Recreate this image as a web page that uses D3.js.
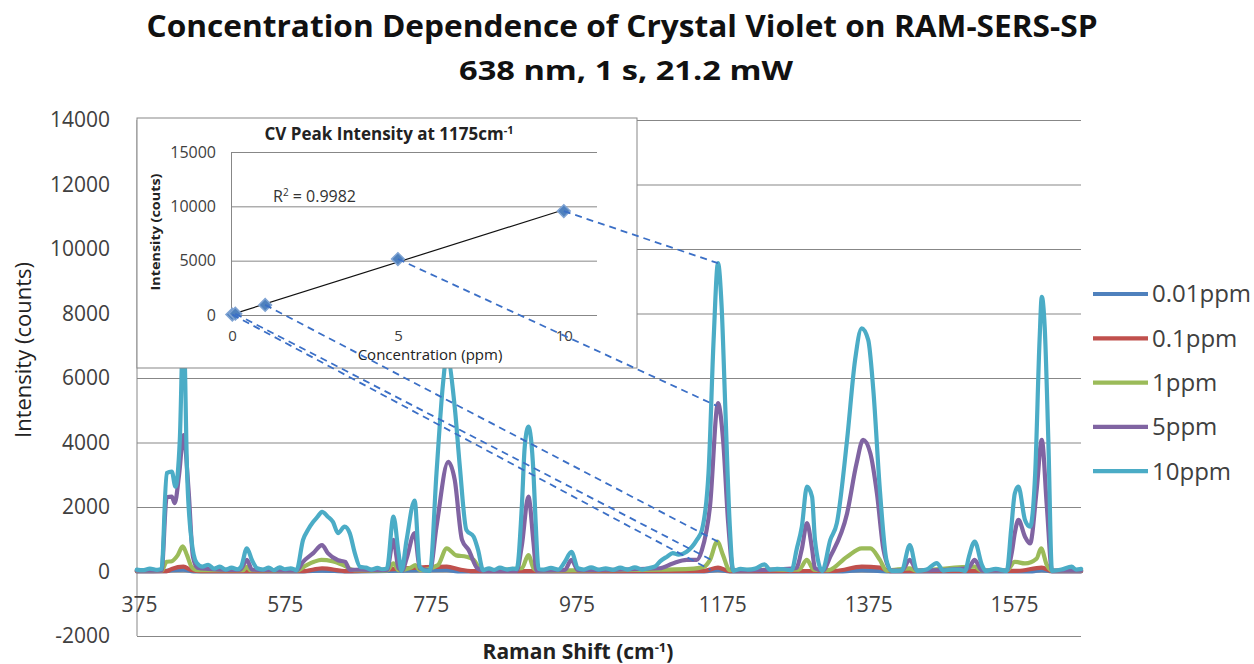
<!DOCTYPE html>
<html>
<head>
<meta charset="utf-8">
<script src="https://cdn.jsdelivr.net/npm/d3@7"></script>
<style>
  body { margin: 0; background: #fff; }
  svg { font-family: "Open Sans", sans-serif; }
</style>
</head>
<body>
<svg id="chart" width="1254" height="664"></svg>
<script>
// --- data ---
var seriesNames = ["0.01ppm", "0.1ppm", "1ppm", "5ppm", "10ppm"];
var seriesColors = ["#4F81BD", "#C0504D", "#9BBB59", "#8064A2", "#4BACC6"];
var shiftTicks = [375, 575, 775, 975, 1175, 1375, 1575];
var intensityTicks = [-2000, 0, 2000, 4000, 6000, 8000, 10000, 12000, 14000];

// [raman shift, intensity]
var ppm001 = [[372,0],[410,10],[420,40],[436,60],[450,5],[600,5],[626,30],[660,5],[797,50],[812,5],[1150,5],[1169,50],[1185,5],[1340,5],[1366,40],[1400,5],[1600,5],[1613,40],[1627,5],[1667,5]];
var ppm01 = [[372,10],[413,10],[420,80],[436,150],[447,40],[460,10],[600,10],[626,100],[660,10],[797,150],[815,60],[830,10],[1150,20],[1169,120],[1185,10],[1330,20],[1366,150],[1391,120],[1405,10],[1580,20],[1613,120],[1627,10],[1667,10]];
var ppm1 = [[372,20],[406,20],[413,300],[420,320],[428,500],[435,780],[441,500],[447,150],[455,40],[518,40],[523,150],[528,40],[591,30],[605,200],[615,300],[625,360],[640,320],[655,200],[670,40],[715,30],[724,250],[731,40],[748,120],[754,200],[760,40],[785,200],[797,720],[810,500],[824,460],[834,360],[845,40],[900,100],[909,510],[916,100],[922,30],[1100,60],[1130,80],[1150,150],[1158,360],[1168,930],[1176,500],[1185,40],[1280,60],[1291,360],[1300,60],[1320,40],[1346,460],[1366,720],[1378,720],[1391,360],[1400,30],[1432,100],[1440,30],[1521,150],[1530,30],[1565,30],[1576,300],[1590,250],[1606,400],[1612,720],[1620,200],[1627,30],[1667,30]];
var ppm5 = [[372,30],[406,30],[413,2300],[420,2320],[424,2120],[430,3000],[436,4230],[443,2530],[449,460],[455,120],[470,80],[500,50],[514,60],[523,360],[530,60],[560,40],[591,30],[600,300],[614,570],[626,820],[634,570],[648,350],[658,300],[664,50],[680,60],[715,40],[724,980],[731,100],[736,30],[742,400],[753,1190],[760,100],[774,30],[783,1390],[799,3400],[808,2840],[818,980],[827,670],[839,100],[847,30],[893,30],[900,800],[909,2320],[916,900],[920,30],[959,50],[968,360],[977,40],[1089,100],[1107,250],[1126,360],[1140,360],[1147,670],[1158,2010],[1169,5220],[1176,4080],[1183,1500],[1190,30],[1276,100],[1284,700],[1291,1500],[1298,700],[1302,100],[1313,30],[1323,460],[1346,1800],[1359,3350],[1368,4080],[1378,3660],[1387,2420],[1396,670],[1407,30],[1421,30],[1432,360],[1442,30],[1512,100],[1521,360],[1531,30],[1565,30],[1572,600],[1576,1190],[1581,1600],[1590,1080],[1597,870],[1606,2530],[1613,4080],[1620,2010],[1627,30],[1667,30]];
var ppm10 = [[372,60],[380,40],[390,90],[400,50],[406,80],[413,3050],[420,3100],[425,2630],[431,4080],[436,7800],[441,3050],[447,980],[454,270],[462,150],[470,210],[478,90],[486,150],[494,60],[502,120],[510,70],[515,150],[523,720],[530,350],[537,100],[545,60],[553,120],[560,40],[568,130],[575,70],[583,100],[591,40],[600,980],[607,1300],[614,1540],[620,1700],[626,1850],[634,1700],[641,1540],[648,1190],[657,1390],[664,1190],[671,570],[678,150],[686,120],[694,60],[702,110],[709,70],[715,90],[724,1700],[731,570],[735,20],[742,980],[753,2200],[760,150],[767,30],[774,20],[783,3050],[792,5840],[797,6700],[808,5100],[815,3250],[824,1290],[834,1080],[840,670],[847,40],[855,100],[862,50],[870,120],[880,60],[887,90],[893,80],[900,2010],[904,3870],[909,4490],[916,3050],[919,1500],[923,80],[930,60],[940,110],[950,60],[959,300],[968,610],[977,100],[985,60],[995,130],[1005,60],[1015,100],[1025,50],[1035,120],[1045,60],[1055,130],[1065,60],[1075,110],[1083,160],[1090,320],[1099,460],[1107,570],[1115,520],[1126,610],[1140,980],[1147,1290],[1156,3050],[1163,7180],[1169,9560],[1174,8210],[1179,5110],[1185,1500],[1190,20],[1200,80],[1210,60],[1220,90],[1233,220],[1240,60],[1250,80],[1260,70],[1270,40],[1277,700],[1284,1390],[1291,2630],[1298,2320],[1302,980],[1312,20],[1323,980],[1332,1500],[1346,4080],[1357,6560],[1366,7540],[1375,7180],[1382,5630],[1391,2530],[1400,360],[1407,20],[1421,30],[1432,820],[1442,20],[1455,60],[1469,260],[1478,30],[1490,60],[1500,60],[1508,20],[1513,450],[1521,930],[1531,200],[1536,20],[1550,80],[1565,20],[1571,1300],[1576,2420],[1581,2630],[1590,1600],[1597,1390],[1604,3050],[1610,7180],[1613,8520],[1617,7590],[1622,4080],[1627,20],[1640,60],[1654,150],[1660,60],[1667,80]];
var seriesData = [ppm001, ppm01, ppm1, ppm5, ppm10];

// inset: peak intensity at 1175 vs concentration
var concentration = [0.01, 0.1, 1, 5, 10];
var peak1175 = [40, 120, 930, 5150, 9560];
var insetXTicks = [0, 5, 10];
var insetYTicks = [0, 5000, 10000, 15000];
// where each dashed leader lands on the spectrum
var linkShift = [1159, 1165, 1169, 1167, 1169];
var linkIntensity = [50, 300, 925, 5140, 9560];

var svg = d3.select("#chart");
var grid = "#878787", ink = "#404040";
var plain = function(d) { return String(d); };  // keeps "-2000" with a hyphen

var x = d3.scaleLinear().domain([372.3, 1666.8]).range([137, 1081]);
var y = d3.scaleLinear().domain([-2000, 14000]).range([636, 120]);

// title
svg.append("text").attr("x", 622).attr("y", 37).attr("text-anchor", "middle")
  .attr("font-size", 30).attr("font-weight", "bold").attr("fill", "#111")
  .attr("textLength", 951).attr("lengthAdjust", "spacingAndGlyphs")
  .text("Concentration  Dependence of Crystal Violet on RAM-SERS-SP");
svg.append("text").attr("x", 626).attr("y", 80).attr("text-anchor", "middle")
  .attr("font-size", 26).attr("font-weight", "bold").attr("fill", "#111")
  .attr("textLength", 334).attr("lengthAdjust", "spacingAndGlyphs")
  .text("638 nm, 1 s, 21.2 mW");

// gridlines + y labels
var yAxis = svg.append("g").attr("transform", "translate(137,0)")
  .call(d3.axisLeft(y).tickValues(intensityTicks).tickSize(-944).tickPadding(27)
    .tickFormat(plain));
yAxis.select(".domain").remove();
yAxis.selectAll(".tick line").attr("stroke", grid);
yAxis.selectAll(".tick text").attr("font-size", 21).attr("fill", ink)
  .attr("font-family", "Open Sans");

// left axis line
svg.append("line").attr("x1", 137).attr("x2", 137).attr("y1", y(14000)).attr("y2", y(-2000))
  .attr("stroke", grid);

// x axis through zero
var xAxis = svg.append("g").attr("transform", "translate(0," + y(0) + ")")
  .call(d3.axisBottom(x).tickValues(shiftTicks).tickSize(0).tickFormat(plain));
xAxis.select(".domain").attr("stroke", grid);
xAxis.selectAll(".tick text").attr("y", 33).attr("dy", "0.35em")
  .attr("font-size", 21).attr("fill", ink).attr("font-family", "Open Sans");

// axis titles
svg.append("text").attr("transform", "translate(23,350) rotate(-90)")
  .attr("text-anchor", "middle").attr("dy", "0.35em")
  .attr("font-size", 22).attr("fill", "#222").text("Intensity (counts)");
var xt = svg.append("text").attr("x", 578).attr("y", 659).attr("text-anchor", "middle")
  .attr("font-size", 21).attr("font-weight", "bold").attr("fill", "#222");
xt.append("tspan").text("Raman Shift (cm");
xt.append("tspan").attr("dy", -7).attr("font-size", 13).text("-1");
xt.append("tspan").attr("dy", 7).text(")");

// spectra
var line = d3.line().x(function(d) { return x(d[0]); }).y(function(d) { return y(d[1]); })
  .curve(d3.curveMonotoneX);
svg.append("g").selectAll("path").data(seriesData).enter().append("path")
  .attr("d", line).attr("fill", "none")
  .attr("stroke", function(d, i) { return seriesColors[i]; })
  .attr("stroke-width", 4.2).attr("stroke-linejoin", "round").attr("stroke-linecap", "round");

// legend
var legend = svg.append("g").selectAll("g").data(seriesNames).enter().append("g")
  .attr("transform", function(d, i) { return "translate(1093," + (294 + i * 44.3) + ")"; });
legend.append("line").attr("x1", 0).attr("x2", 55)
  .attr("stroke", function(d, i) { return seriesColors[i]; }).attr("stroke-width", 4.2);
legend.append("text").attr("x", 59).attr("dy", "0.35em").attr("font-size", 24)
  .attr("fill", ink).text(function(d) { return d; });

// ---- inset ----
var inset = svg.append("g");
inset.append("rect").attr("x", 137).attr("y", 118).attr("width", 500).attr("height", 250)
  .attr("fill", "#fff").attr("stroke", grid);

var ix = d3.scaleLinear().domain([0, 11]).range([232, 597]);
var iy = d3.scaleLinear().domain([0, 15000]).range([315, 152]);

var iyAxis = inset.append("g").attr("transform", "translate(231,0)")
  .call(d3.axisLeft(iy).tickValues(insetYTicks).tickSize(-366).tickPadding(15)
    .tickFormat(plain));
iyAxis.select(".domain").attr("stroke", grid);
iyAxis.selectAll(".tick line").attr("stroke", grid);
iyAxis.selectAll(".tick text").attr("font-size", 16).attr("fill", ink).attr("font-family", "Open Sans");

var ixAxis = inset.append("g").attr("transform", "translate(0,315)")
  .call(d3.axisBottom(ix).tickValues(insetXTicks).tickSize(0));
ixAxis.select(".domain").remove();
ixAxis.selectAll(".tick text").attr("y", 21).attr("dy", "0.35em")
  .attr("font-size", 15).attr("fill", ink).attr("font-family", "Open Sans");

var it = inset.append("text").attr("x", 389).attr("y", 140).attr("text-anchor", "middle")
  .attr("font-size", 17).attr("font-weight", "bold").attr("fill", "#222");
it.append("tspan").text("CV Peak Intensity at 1175cm");
it.append("tspan").attr("dy", -6).attr("font-size", 11).text("-1");

inset.append("text").attr("x", 430).attr("y", 360).attr("text-anchor", "middle")
  .attr("font-size", 15).attr("fill", "#222").text("Concentration  (ppm)");
inset.append("text").attr("transform", "translate(155,232) rotate(-90)")
  .attr("text-anchor", "middle").attr("dy", "0.35em").attr("font-size", 13)
  .attr("font-weight", "bold").attr("fill", "#222")
  .attr("textLength", 117).attr("lengthAdjust", "spacingAndGlyphs")
  .text("Intensity (couts)");

var r2 = inset.append("text").attr("x", 273).attr("y", 202).attr("font-size", 16).attr("fill", "#333");
r2.append("tspan").text("R");
r2.append("tspan").attr("dy", -6).attr("font-size", 10).text("2");
r2.append("tspan").attr("dy", 6).text(" = 0.9982");

// linear trend fitted to the points
var mx = d3.mean(concentration), my = d3.mean(peak1175);
var sxy = d3.sum(concentration, function(c, i) { return (c - mx) * (peak1175[i] - my); });
var sxx = d3.sum(concentration, function(c) { return (c - mx) * (c - mx); });
var slope = sxy / sxx, icpt = my - slope * mx;
inset.append("line").attr("x1", ix(0)).attr("y1", iy(icpt))
  .attr("x2", ix(10)).attr("y2", iy(icpt + slope * 10))
  .attr("stroke", "#111").attr("stroke-width", 1.2);

inset.selectAll("path.pt").data(concentration).enter().append("path")
  .attr("class", "pt")
  .attr("d", d3.symbol().type(d3.symbolSquare).size(80))
  .attr("transform", function(c, i) { return "translate(" + ix(c) + "," + iy(peak1175[i]) + ") rotate(45)"; })
  .attr("fill", "#4F81BD").attr("stroke", "#7FA3D3").attr("stroke-width", 1.5);

// dashed leaders from inset points to the 1175 peaks
svg.append("g").selectAll("line").data(concentration).enter().append("line")
  .attr("x1", function(c) { return ix(c); })
  .attr("y1", function(c, i) { return iy(peak1175[i]); })
  .attr("x2", function(c, i) { return x(linkShift[i]); })
  .attr("y2", function(c, i) { return y(linkIntensity[i]); })
  .attr("stroke", "#3B6FC6").attr("stroke-width", 1.8).attr("stroke-dasharray", "7,5");
</script>
</body>
</html>
